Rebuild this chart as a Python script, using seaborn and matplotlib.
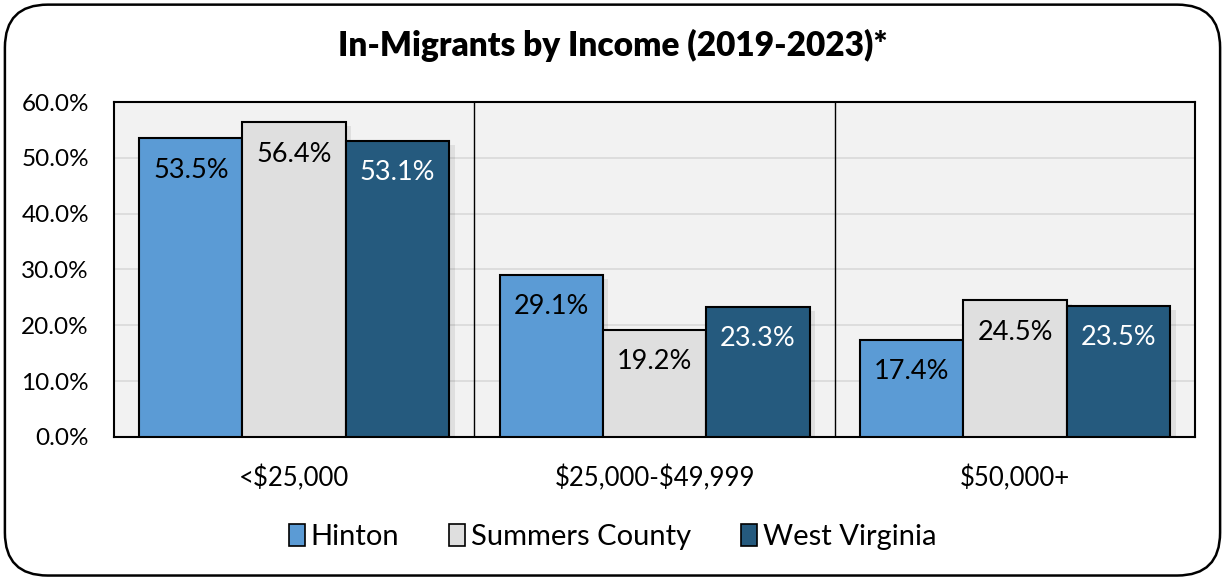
import matplotlib
matplotlib.use("Agg")
import matplotlib.pyplot as plt
import seaborn as sns
import pandas as pd
from matplotlib.patches import FancyBboxPatch, Patch
from matplotlib.ticker import FuncFormatter, MultipleLocator
import matplotlib.patheffects as pe

categories = ["<$25,000", "$25,000-$49,999", "$50,000+"]
series = ["Hinton", "Summers County", "West Virginia"]
hinton = [53.5, 29.1, 17.4]
summers = [56.4, 19.2, 24.5]
west_virginia = [53.1, 23.3, 23.5]
colors = ["#5B9BD5", "#DFDFDF", "#255A7E"]
label_colors = ["black", "black", "white"]

rows = []
for s, vals in zip(series, [hinton, summers, west_virginia]):
    for c, v in zip(categories, vals):
        rows.append({"Income": c, "Area": s, "Value": v})
df = pd.DataFrame(rows)

sns.set_theme(style="white")
plt.rcParams["font.family"] = ["Lato", "DejaVu Sans"]
plt.rcParams["text.parse_math"] = False

fig = plt.figure(figsize=(12.25, 5.79), dpi=100)
ax = fig.add_axes([0.093, 0.2453, 0.8827, 0.5785])
ax.set_facecolor("#F2F2F2")

sns.barplot(data=df, x="Income", y="Value", hue="Area", order=categories,
            hue_order=series, palette=colors, width=0.86, gap=0,
            edgecolor="black", linewidth=1.5, saturation=1, ax=ax, zorder=3,
            legend=False)

for p in ax.patches:
    p.set_path_effects([pe.SimplePatchShadow(offset=(4, -3), shadow_rgbFace="#000000", alpha=0.08), pe.Normal()])

ax.set_ylim(0, 60)
ax.set_xlim(-0.5, 2.5)
ax.yaxis.set_major_locator(MultipleLocator(10))
ax.yaxis.set_major_formatter(FuncFormatter(lambda v, _: f"{v:.1f}%"))
ax.grid(axis="y", color="#D9D9D9", linewidth=1.2, zorder=0)
ax.set_axisbelow(True)
for x in [0.5, 1.5]:
    ax.axvline(x, color="black", linewidth=1.0, zorder=2)
for sp in ax.spines.values():
    sp.set_visible(True)
    sp.set_color("black")
    sp.set_linewidth(1.5)

ax.set_xlabel("")
ax.set_ylabel("")
ax.tick_params(axis="y", labelsize=17.5, pad=18, length=0, labelcolor="black")
ax.tick_params(axis="x", labelsize=18.5, pad=20, length=0, labelcolor="black")
for lab in ax.get_yticklabels():
    lab.set_horizontalalignment("right")

for ci, cont in enumerate(ax.containers):
    vals = [hinton, summers, west_virginia][ci]
    for bar, v in zip(cont, vals):
        ax.annotate(f"{v:.1f}%", (bar.get_x() + bar.get_width() / 2, bar.get_height()),
                    xytext=(0, -23), textcoords="offset points", ha="center", va="center",
                    fontsize=19.5, color=label_colors[ci], zorder=5)

fig.text(0.5, 0.922, "In-Migrants by Income (2019-2023)*", ha="center", va="center",
         fontsize=24, fontweight="heavy", color="black")

handles = [Patch(facecolor=c, edgecolor="black", linewidth=1.2) for c in colors]
fig.legend(handles, series, loc="center", bbox_to_anchor=(0.5, 0.073), ncol=3,
           frameon=False, fontsize=21, handlelength=0.55, handleheight=0.8,
           handletextpad=0.2, columnspacing=1.7, labelcolor="black")

border = FancyBboxPatch((0.004, 0.006), 0.992, 0.986, boxstyle="round,pad=0,rounding_size=0.035",
                        transform=fig.transFigure, facecolor="none", edgecolor="black",
                        linewidth=1.8, mutation_aspect=1225 / 579)
fig.patches.append(border)

fig.savefig("out.png", dpi=100, facecolor="white")
